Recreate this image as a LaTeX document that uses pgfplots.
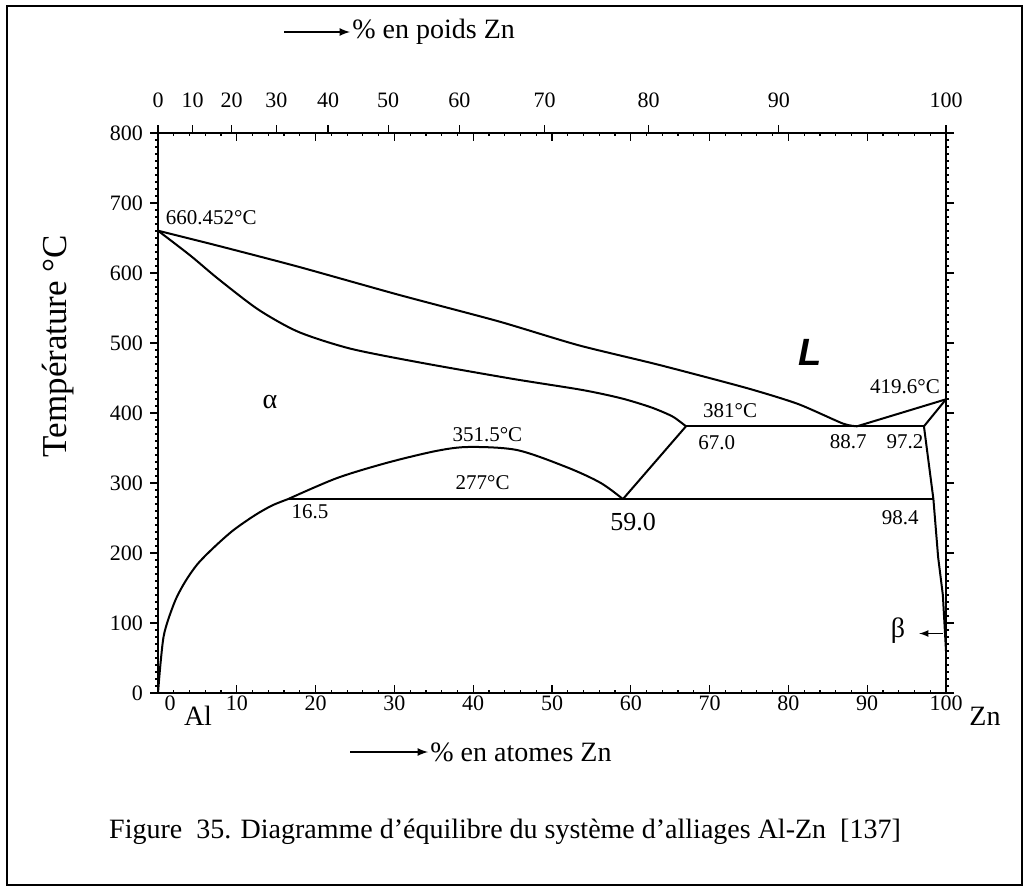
\documentclass[border=0pt]{standalone}
\usepackage{fontspec}
\setmainfont{Liberation Serif}
\newfontfamily\sansfont{Liberation Sans}
\usepackage{pgfplots}
\pgfplotsset{compat=1.18}
\newcommand{\tl}{\fontsize{11}{12}\selectfont}
\begin{document}
\begin{tikzpicture}
\path (0,0) rectangle (516pt,445.5pt);
\draw[line width=0.8pt] (3.5pt,3pt) rectangle (511pt,442.5pt);
% y ticks and labels (outside)
\begin{axis}[
  at={(79pt,99pt)}, anchor=south west,
  scale only axis, width=394pt, height=280pt,
  xmin=0,xmax=100,ymin=0,ymax=800,
  axis line style={line width=1pt},
  xtick=\empty,
  ytick={0,100,200,300,400,500,600,700,800},
  yticklabels={\tl 0,\tl 100,\tl 200,\tl 300,\tl 400,\tl 500,\tl 600,\tl 700,\tl 800},
  minor y tick num=9,
  tick align=outside,
  ytick pos=both, yticklabel pos=left,
  major tick length=4pt, minor tick length=1.5pt,
  tick style={black, line width=0.6pt},
]
\end{axis}
% top weight-percent axis
\begin{axis}[
  at={(79pt,99pt)}, anchor=south west,
  scale only axis, width=394pt, height=280pt,
  xmin=0,xmax=100,ymin=0,ymax=800,
  axis x line*=top, axis y line=none,
  axis line style={line width=1pt},
  xtick={0,4.38,9.35,15.03,21.58,29.21,38.23,49.05,62.27,78.79,100},
  xticklabels={\tl 0,\tl 10,\tl 20,\tl 30,\tl 40,\tl 50,\tl 60,\tl 70,\tl 80,\tl 90,\tl 100},
  tick align=outside,
  major tick length=4pt,
  tick style={black, line width=0.6pt},
  xticklabel style={yshift=5pt},
]
\end{axis}
% main axis with data
\begin{axis}[
  at={(79pt,99pt)}, anchor=south west,
  scale only axis, width=394pt, height=280pt,
  xmin=0,xmax=100,ymin=0,ymax=800,
  axis line style={line width=1pt},
  xtick={0,10,20,30,40,50,60,70,80,90,100},
  xticklabels={\tl\hspace{12pt}0,\tl 10,\tl 20,\tl 30,\tl 40,\tl 50,\tl 60,\tl 70,\tl 80,\tl 90,\tl 100},
  minor x tick num=4,
  ytick=\empty,
  tick align=inside,
  xtick pos=both, xticklabel pos=bottom,
  major tick length=4pt, minor tick length=1.5pt,
  tick style={black, line width=0.6pt},
  xticklabel style={yshift=2pt},
  clip=false,
]
% liquidus
\addplot[black, line width=1pt, smooth, tension=0.4] coordinates {
  (0,660.452) (7.6,639) (17.8,609) (30.5,569) (43.2,531) (53.3,497)
  (63.5,469) (74.6,436) (81.2,413) (86.9,385) (88.7,381)};
\addplot[black, line width=1pt] coordinates {(88.7,381) (100,419.6)};
% solidus of alpha
\addplot[black, line width=1pt, smooth, tension=0.45] coordinates {
  (0,660.452) (4.1,625) (7.6,592) (12.7,548) (17.8,516) (24.4,492)
  (33.3,472) (44.9,449) (53.8,433) (58.8,421) (62.6,408) (65.3,395) (67.0,381)};
% 381 and 277 horizontals
\addplot[black, line width=1pt] coordinates {(67.0,381) (97.2,381)};
\addplot[black, line width=1pt] coordinates {(16.5,277) (98.4,277)};
% alpha solvus segment
\addplot[black, line width=1pt] coordinates {(59.0,277) (67.0,381)};
% miscibility gap dome
\addplot[black, line width=1pt, smooth, tension=0.5] coordinates {
  (16.5,277) (22.7,307) (29.1,329) (35.4,346) (39.5,351.5) (45.6,347)
  (52.0,322) (56.2,300) (59.0,277)};
% Al-rich solvus
\addplot[black, line width=1pt, smooth, tension=0.5] coordinates {
  (0,0) (0.3,40) (0.7,80) (1.3,105) (2.3,135) (3.5,160) (5.0,184)
  (7.0,207) (9.5,232) (12.3,254) (14.5,268) (16.5,277)};
% beta side
\addplot[black, line width=1pt] coordinates {(97.2,381) (100,419.6)};
\addplot[black, line width=1pt] coordinates {(97.2,381) (98.4,277) (99.0,194) (99.6,140) (100,60)};
% labels
\node[anchor=west, font=\fontsize{10.5}{12}\selectfont] at (axis cs:0.1,679) {660.452°C};
\node[font=\sansfont\bfseries\itshape\fontsize{19}{20}\selectfont] at (axis cs:82.7,486) {L};
\node[font=\fontsize{10.5}{12}\selectfont] at (axis cs:94.8,437) {419.6°C};
\node[font=\fontsize{10.5}{12}\selectfont] at (axis cs:72.6,404) {381°C};
\node[font=\fontsize{10.5}{12}\selectfont] at (axis cs:70.9,357) {67.0};
\node[font=\fontsize{10.5}{12}\selectfont] at (axis cs:87.6,359) {88.7};
\node[font=\fontsize{10.5}{12}\selectfont] at (axis cs:94.8,359) {97.2};
\node[font=\fontsize{10.5}{12}\selectfont] at (axis cs:94.2,251) {98.4};
\node[font=\fontsize{13}{14}\selectfont] at (axis cs:60.3,244) {59.0};
\node[font=\fontsize{10.5}{12}\selectfont] at (axis cs:19.3,259) {16.5};
\node[font=\fontsize{10.5}{12}\selectfont] at (axis cs:41.8,369) {351.5°C};
\node[font=\fontsize{10.5}{12}\selectfont] at (axis cs:41.2,300) {277°C};
\node[font=\fontsize{14}{14}\selectfont] at (axis cs:14.2,416) {α};
\node[font=\fontsize{14}{14}\selectfont] at (axis cs:93.9,89) {β};
\draw[-latex, line width=0.6pt] (axis cs:99.6,85) -- (axis cs:96.6,85);
\end{axis}
% outside texts
\node[rotate=90, font=\fontsize{17.5}{18}\selectfont] at (29pt,272.5pt) {Température °C};
\node[font=\fontsize{14}{16}\selectfont] at (99pt,87.5pt) {Al};
\node[font=\fontsize{14}{16}\selectfont] at (492.5pt,87.5pt) {Zn};
\draw[-latex, line width=0.8pt] (142pt,429.5pt) -- (175pt,429.5pt);
\node[anchor=west, font=\fontsize{14}{16}\selectfont, inner sep=1pt] at (175pt,429.5pt) {\% en poids Zn};
\draw[-latex, line width=0.8pt] (175pt,69.5pt) -- (214pt,69.5pt);
\node[anchor=west, font=\fontsize{14}{16}\selectfont, inner sep=1pt] at (214pt,69.5pt) {\% en atomes Zn};
\node[font=\fontsize{14}{16}\selectfont] at (252.5pt,29.5pt) {Figure\ \ 35. Diagramme d’équilibre du système d’alliages Al-Zn\ \ [137]};
\end{tikzpicture}
\end{document}
